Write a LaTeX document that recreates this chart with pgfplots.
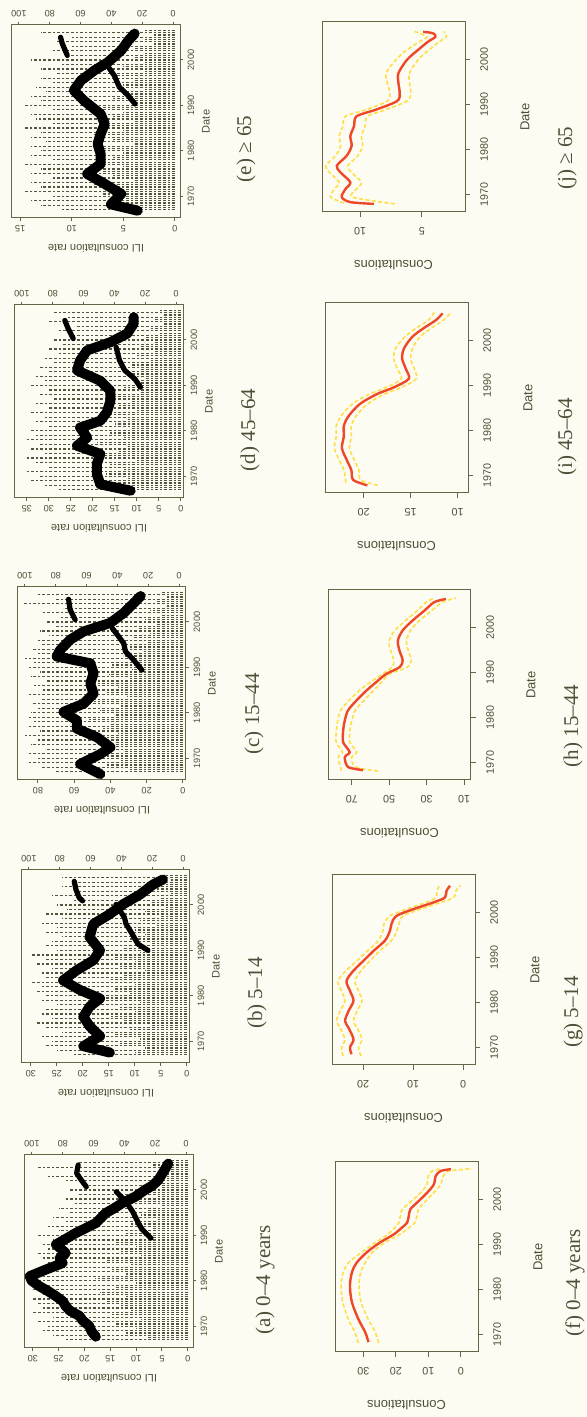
\documentclass[border=0pt]{standalone}
\usepackage{pgfplots}
\pgfplotsset{compat=1.18}
\usepackage{fontspec}
\setmainfont{Liberation Serif}
\newfontfamily\lsans{Liberation Sans}
\definecolor{bg}{RGB}{253,252,242}
\definecolor{axc}{RGB}{105,100,70}
\definecolor{txc}{RGB}{80,78,55}
\definecolor{dotc}{RGB}{85,82,62}
\definecolor{redc}{RGB}{238,72,40}
\definecolor{yelc}{RGB}{255,222,70}
\newcommand\tfT{\lsans\fontsize{4.6}{5}\selectfont}
\newcommand\lfT{\lsans\fontsize{5.5}{6}\selectfont}
\newcommand\tfB{\lsans\fontsize{5.4}{6}\selectfont}
\newcommand\lfB{\lsans\fontsize{6.5}{7}\selectfont}
\newcommand\capf{\fontsize{10.5}{12}\selectfont}
\pgfplotsset{
 common/.style={scale only axis, anchor=south west, x dir=reverse,
   axis line style={draw=axc, line width=0.5pt},
   tick style={draw=axc, line width=0.5pt}, tick align=outside,
   /pgf/number format/assume math mode=true, /pgf/number format/1000 sep={},
   ytick={1970,1980,1990,2000}, xtick pos=left, ytick pos=right,
   xticklabel pos=left, yticklabel pos=right, clip=true},
 toprow/.style={common, width=84pt, height=96.5pt, ymin=1965.2, ymax=2007.7,
   major tick length=1.6pt,
   tick label style={font=\tfT, text=txc},
   xticklabel style={rotate=180, anchor=south, inner ysep=2pt},
   yticklabel style={rotate=90, anchor=north, inner ysep=2pt}},
 topsec/.style={scale only axis, anchor=south west, width=84pt, height=96.5pt,
   x dir=reverse, xmin=-4.5, xmax=104.5, ymin=1965.2, ymax=2007.7,
   axis y line=none, axis x line*=top, xtick={0,20,40,60,80,100},
   axis line style={draw=axc, line width=0.5pt},
   tick style={draw=axc, line width=0.5pt}, tick align=outside, major tick length=1.6pt,
   /pgf/number format/assume math mode=true,
   xticklabel style={rotate=180, anchor=north, inner ysep=2pt, font=\tfT, text=txc}, clip=true},
 botrow/.style={common, width=71.5pt, height=95pt, ymin=1966.0, ymax=2008.3,
   major tick length=2.5pt,
   tick label style={font=\tfB, text=txc},
   xticklabel style={rotate=180, anchor=south, inner ysep=5pt},
   yticklabel style={rotate=90, anchor=north, inner ysep=5pt}},
 dots/.style={xcomb, no marks, draw=dotc, line width=0.6pt, dash pattern=on 1.3pt off 1.0pt},
 band/.style={no marks, draw=black, line width=5pt, line join=round, line cap=round},
 seg/.style={no marks, draw=black, line width=2.6pt, line join=round, line cap=round},
 est/.style={no marks, draw=redc, line width=1.2pt, smooth},
 ci/.style={no marks, draw=yelc, line width=0.8pt, dash pattern=on 2pt off 1.2pt, smooth},
}
\begin{document}
\begin{tikzpicture}
\path[use as bounding box, fill=bg] (0,0) rectangle (293pt,708.5pt);

% ===================== (a) 0-4 =====================
\begin{axis}[toprow, at={(12.5pt,34.5pt)}, xmin=-1, xmax=31.5, xtick={0,5,10,15,20,25,30}]
\addplot[dots] table[x=v,y=d,row sep=\\]{d v\\
1967.0 24\\ 1967.5 8\\ 1968.0 26\\ 1968.5 12\\ 1969.0 28\\ 1969.5 10\\ 1970.0 27\\ 1970.5 14\\
1971.0 29\\ 1971.5 9\\ 1972.0 26\\ 1972.5 15\\ 1973.0 30\\ 1973.5 11\\ 1974.0 28\\ 1974.5 13\\
1975.0 29\\ 1975.5 16\\ 1976.0 30\\ 1976.5 12\\ 1977.0 28\\ 1977.5 17\\ 1978.0 30\\ 1978.5 14\\
1979.0 29\\ 1979.5 10\\ 1980.0 30\\ 1980.5 18\\ 1981.0 29\\ 1981.5 12\\ 1982.0 28\\ 1982.5 15\\
1983.0 29\\ 1983.5 11\\ 1984.0 27\\ 1984.5 16\\ 1985.0 28\\ 1985.5 9\\ 1986.0 29\\ 1986.5 13\\
1987.0 27\\ 1987.5 10\\ 1988.0 28\\ 1988.5 14\\ 1989.0 26\\ 1989.5 8\\ 1990.0 29\\ 1990.5 12\\
1991.0 25\\ 1991.5 7\\ 1992.0 27\\ 1992.5 11\\ 1993.0 24\\ 1993.5 6\\ 1994.0 26\\ 1994.5 9\\
1995.0 23\\ 1995.5 8\\ 1996.0 25\\ 1996.5 5\\ 1997.0 22\\ 1997.5 10\\ 1998.0 24\\ 1998.5 6\\
1999.0 21\\ 1999.5 8\\ 2000.0 23\\ 2000.5 5\\ 2001.0 20\\ 2001.5 7\\ 2002.0 24\\ 2002.5 4\\
2003.0 27\\ 2003.5 6\\ 2004.0 22\\ 2004.5 5\\ 2005.0 29\\ 2005.5 7\\ 2006.0 21\\ 2006.5 4\\};
\addplot[band] table[x=v,y=d,row sep=\\]{d v\\
1967.7 17.8\\ 1968.8 18.6\\ 1970.1 19.1\\ 1971.2 20.3\\ 1972.3 21.0\\ 1973.4 22.8\\ 1974.4 23.6\\
1975.5 24.2\\ 1976.6 25.5\\ 1977.7 27.0\\ 1978.8 28.7\\ 1980.0 30.2\\ 1981.0 30.6\\ 1982.5 27.4\\
1983.9 24.2\\ 1985.0 24.8\\ 1986.1 23.6\\ 1988.0 25.5\\ 1989.3 23.5\\ 1990.5 21.7\\ 1992.7 17.8\\
1994.9 15.9\\ 1996.0 14.2\\ 1997.1 12.7\\ 1998.5 10.2\\ 2000.0 8.3\\ 2001.0 6.8\\ 2002.2 5.7\\
2004.4 4.5\\ 2005.8 3.8\\};
\end{axis}
\begin{axis}[topsec, at={(12.5pt,34.5pt)}]
\addplot[seg] table[x=v,y=d,row sep=\\]{d v\\ 1989.4 22.8\\ 1991.2 28.2\\ 1992.3 30.3\\ 1995.2 34.6\\ 1997.4 38.9\\ 1999.6 45.3\\};
\addplot[seg] table[x=v,y=d,row sep=\\]{d v\\ 2000.7 64.7\\ 2002.2 68.0\\ 2003.7 71.0\\ 2005.5 70.0\\};
\end{axis}

% ===================== (b) 5-14 =====================
\begin{axis}[toprow, at={(11pt,177pt)}, xmin=-0.6, xmax=31.7, xtick={0,5,10,15,20,25,30}]
\addplot[dots] table[x=v,y=d,row sep=\\]{d v\\
1967.0 22\\ 1967.5 10\\ 1968.0 25\\ 1968.5 8\\ 1969.0 27\\ 1969.5 13\\ 1970.0 26\\ 1970.5 9\\
1971.0 28\\ 1971.5 14\\ 1972.0 24\\ 1972.5 11\\ 1973.0 27\\ 1973.5 7\\ 1974.0 29\\ 1974.5 12\\
1975.0 26\\ 1975.5 15\\ 1976.0 28\\ 1976.5 10\\ 1977.0 27\\ 1977.5 13\\ 1978.0 25\\ 1978.5 9\\
1979.0 28\\ 1979.5 16\\ 1980.0 27\\ 1980.5 11\\ 1981.0 29\\ 1981.5 14\\ 1982.0 28\\ 1982.5 10\\
1983.0 30\\ 1983.5 15\\ 1984.0 27\\ 1984.5 12\\ 1985.0 28\\ 1985.5 8\\ 1986.0 26\\ 1986.5 13\\
1987.0 29\\ 1987.5 10\\ 1988.0 27\\ 1988.5 14\\ 1989.0 30\\ 1989.5 9\\ 1990.0 25\\ 1990.5 12\\
1991.0 27\\ 1991.5 7\\ 1992.0 26\\ 1992.5 11\\ 1993.0 24\\ 1993.5 8\\ 1994.0 27\\ 1994.5 10\\
1995.0 25\\ 1995.5 6\\ 1996.0 28\\ 1996.5 9\\ 1997.0 24\\ 1997.5 5\\ 1998.0 27\\ 1998.5 8\\
1999.0 23\\ 1999.5 4\\ 2000.0 25\\ 2000.5 7\\ 2001.0 22\\ 2001.5 5\\ 2002.0 26\\ 2002.5 3\\
2003.0 21\\ 2003.5 6\\ 2004.0 24\\ 2004.5 4\\ 2005.0 22\\ 2005.5 3\\ 2006.0 24\\ 2006.5 5\\};
\addplot[band] table[x=v,y=d,row sep=\\]{d v\\
1967.5 14.8\\ 1968.9 19.9\\ 1971.1 16.7\\ 1973.3 18.7\\ 1975.4 19.9\\ 1977.6 18.7\\ 1979.4 16.7\\
1981.3 20.6\\ 1983.4 23.8\\ 1985.6 21.2\\ 1987.8 18.0\\ 1990.0 16.7\\ 1992.9 18.7\\ 1995.8 18.0\\
1998.0 14.8\\ 2000.2 12.2\\ 2002.3 9.0\\ 2004.5 6.5\\ 2005.6 4.6\\};
\end{axis}
\begin{axis}[topsec, at={(11pt,177pt)}]
\addplot[seg] table[x=v,y=d,row sep=\\]{d v\\ 1990.0 22.8\\ 1991.4 29.3\\ 1994.0 33.7\\ 1995.8 37.0\\ 1997.2 38.0\\ 2000.1 43.5\\};
\addplot[seg] table[x=v,y=d,row sep=\\]{d v\\ 2000.9 65.2\\ 2001.6 67.4\\ 2003.4 69.5\\ 2005.2 70.6\\};
\end{axis}

% ===================== (c) 15-44 =====================
\begin{axis}[toprow, at={(9pt,318.5pt)}, xmin=-1.7, xmax=91, xtick={0,20,40,60,80}]
\addplot[dots] table[x=v,y=d,row sep=\\]{d v\\
1967.0 70\\ 1967.5 30\\ 1968.0 78\\ 1968.5 42\\ 1969.0 85\\ 1969.5 35\\ 1970.0 80\\ 1970.5 48\\
1971.0 86\\ 1971.5 33\\ 1972.0 76\\ 1972.5 45\\ 1973.0 84\\ 1973.5 38\\ 1974.0 81\\ 1974.5 50\\
1975.0 87\\ 1975.5 36\\ 1976.0 79\\ 1976.5 44\\ 1977.0 85\\ 1977.5 40\\ 1978.0 82\\ 1978.5 52\\
1979.0 86\\ 1979.5 37\\ 1980.0 84\\ 1980.5 46\\ 1981.0 80\\ 1981.5 34\\ 1982.0 83\\ 1982.5 49\\
1983.0 78\\ 1983.5 31\\ 1984.0 85\\ 1984.5 43\\ 1985.0 77\\ 1985.5 36\\ 1986.0 82\\ 1986.5 47\\
1987.0 76\\ 1987.5 30\\ 1988.0 84\\ 1988.5 41\\ 1989.0 79\\ 1989.5 28\\ 1990.0 86\\ 1990.5 39\\
1991.0 82\\ 1991.5 25\\ 1992.0 87\\ 1992.5 33\\ 1993.0 80\\ 1993.5 22\\ 1994.0 83\\ 1994.5 30\\
1995.0 78\\ 1995.5 20\\ 1996.0 81\\ 1996.5 27\\ 1997.0 74\\ 1997.5 18\\ 1998.0 79\\ 1998.5 24\\
1999.0 70\\ 1999.5 15\\ 2000.0 75\\ 2000.5 21\\ 2001.0 68\\ 2001.5 12\\ 2002.0 77\\ 2002.5 18\\
2003.0 66\\ 2003.5 10\\ 2004.0 88\\ 2004.5 15\\ 2005.0 70\\ 2005.5 9\\ 2006.0 80\\ 2006.5 12\\};
\addplot[band] table[x=v,y=d,row sep=\\]{d v\\
1966.5 45.6\\ 1968.7 56.7\\ 1970.9 45.6\\ 1972.4 40.0\\ 1974.6 47.4\\ 1976.5 58.5\\ 1978.3 58.5\\
1980.2 65.9\\ 1982.0 54.8\\ 1984.2 49.3\\ 1986.4 51.1\\ 1988.7 49.3\\ 1990.9 51.1\\ 1992.4 69.6\\
1993.8 67.8\\ 1996.1 62.2\\ 1997.9 54.8\\ 1999.8 40.0\\ 2002.0 32.6\\ 2004.2 27.0\\ 2005.7 23.3\\};
\end{axis}
\begin{axis}[topsec, at={(9pt,318.5pt)}]
\addplot[seg] table[x=v,y=d,row sep=\\]{d v\\ 1989.4 24.1\\ 1991.6 29.4\\ 1993.5 34.8\\ 1995.3 35.9\\ 1998.7 43.5\\};
\addplot[seg] table[x=v,y=d,row sep=\\]{d v\\ 2000.5 67.4\\ 2002.7 70.7\\ 2005.0 71.7\\};
\end{axis}

% ===================== (d) 45-64 =====================
\begin{axis}[toprow, at={(7.5pt,459.5pt)}, xmin=-0.5, xmax=37.7, xtick={0,5,10,15,20,25,30,35}]
\addplot[dots] table[x=v,y=d,row sep=\\]{d v\\
1967.0 28\\ 1967.5 11\\ 1968.0 31\\ 1968.5 15\\ 1969.0 34\\ 1969.5 12\\ 1970.0 32\\ 1970.5 17\\
1971.0 35\\ 1971.5 13\\ 1972.0 30\\ 1972.5 16\\ 1973.0 33\\ 1973.5 10\\ 1974.0 35\\ 1974.5 18\\
1975.0 31\\ 1975.5 14\\ 1976.0 34\\ 1976.5 12\\ 1977.0 32\\ 1977.5 19\\ 1978.0 35\\ 1978.5 13\\
1979.0 33\\ 1979.5 16\\ 1980.0 34\\ 1980.5 11\\ 1981.0 30\\ 1981.5 15\\ 1982.0 33\\ 1982.5 12\\
1983.0 31\\ 1983.5 17\\ 1984.0 34\\ 1984.5 10\\ 1985.0 30\\ 1985.5 14\\ 1986.0 33\\ 1986.5 11\\
1987.0 29\\ 1987.5 15\\ 1988.0 32\\ 1988.5 9\\ 1989.0 30\\ 1989.5 13\\ 1990.0 34\\ 1990.5 10\\
1991.0 31\\ 1991.5 8\\ 1992.0 33\\ 1992.5 12\\ 1993.0 30\\ 1993.5 9\\ 1994.0 32\\ 1994.5 11\\
1995.0 29\\ 1995.5 7\\ 1996.0 31\\ 1996.5 10\\ 1997.0 28\\ 1997.5 6\\ 1998.0 30\\ 1998.5 9\\
1999.0 27\\ 1999.5 6\\ 2000.0 29\\ 2000.5 8\\ 2001.0 25\\ 2001.5 5\\ 2002.0 28\\ 2002.5 7\\
2003.0 24\\ 2003.5 4\\ 2004.0 30\\ 2004.5 6\\ 2005.0 26\\ 2005.5 4\\ 2006.0 29\\ 2006.5 5\\};
\addplot[band] table[x=v,y=d,row sep=\\]{d v\\
1966.8 11.4\\ 1968.2 18.3\\ 1970.5 19.1\\ 1972.7 19.1\\ 1974.9 18.3\\ 1976.7 23.6\\ 1978.5 21.3\\
1980.7 22.9\\ 1982.2 18.3\\ 1984.1 16.8\\ 1986.6 16.0\\ 1988.8 16.0\\ 1991.0 18.3\\ 1993.3 23.6\\
1995.5 22.9\\ 1997.7 21.3\\ 1999.5 16.0\\ 2001.4 12.2\\ 2003.6 10.7\\ 2005.0 10.7\\};
\end{axis}
\begin{axis}[topsec, at={(7.5pt,459.5pt)}]
\addplot[seg] table[x=v,y=d,row sep=\\]{d v\\ 1989.6 23.1\\ 1991.4 26.7\\ 1993.3 33.3\\ 1995.5 36.7\\ 1998.4 38.9\\};
\addplot[seg] table[x=v,y=d,row sep=\\]{d v\\ 2000.3 66.7\\ 2002.5 70.0\\ 2004.3 72.2\\};
\end{axis}

% ===================== (e) >=65 =====================
\begin{axis}[toprow, at={(6pt,599.5pt)}, xmin=-0.5, xmax=15.8, xtick={0,5,10,15}]
\addplot[dots] table[x=v,y=d,row sep=\\]{d v\\
1967.0 11\\ 1967.5 4\\ 1968.0 13\\ 1968.5 6\\ 1969.0 14\\ 1969.5 5\\ 1970.0 12\\ 1970.5 7\\
1971.0 14.5\\ 1971.5 5\\ 1972.0 13\\ 1972.5 8\\ 1973.0 14\\ 1973.5 4\\ 1974.0 12\\ 1974.5 6\\
1975.0 14\\ 1975.5 7\\ 1976.0 13\\ 1976.5 5\\ 1977.0 14.5\\ 1977.5 8\\ 1978.0 12\\ 1978.5 6\\
1979.0 14\\ 1979.5 5\\ 1980.0 13\\ 1980.5 7\\ 1981.0 14\\ 1981.5 4\\ 1982.0 12.5\\ 1982.5 6\\
1983.0 14\\ 1983.5 8\\ 1984.0 13\\ 1984.5 5\\ 1985.0 14.5\\ 1985.5 7\\ 1986.0 12\\ 1986.5 4\\
1987.0 13.5\\ 1987.5 6\\ 1988.0 14\\ 1988.5 5\\ 1989.0 12\\ 1989.5 7\\ 1990.0 14.5\\ 1990.5 4\\
1991.0 13\\ 1991.5 6\\ 1992.0 14\\ 1992.5 5\\ 1993.0 12.5\\ 1993.5 3\\ 1994.0 13.5\\ 1994.5 5\\
1995.0 12\\ 1995.5 4\\ 1996.0 13\\ 1996.5 6\\ 1997.0 11.5\\ 1997.5 3\\ 1998.0 13\\ 1998.5 5\\
1999.0 11\\ 1999.5 3\\ 2000.0 14\\ 2000.5 4\\ 2001.0 10.5\\ 2001.5 3\\ 2002.0 12\\ 2002.5 4\\
2003.0 10\\ 2003.5 2\\ 2004.0 11.5\\ 2004.5 3\\ 2005.0 10\\ 2005.5 2\\ 2006.0 13\\ 2006.5 3\\};
\addplot[band] table[x=v,y=d,row sep=\\]{d v\\
1966.8 3.6\\ 1968.2 6.2\\ 1970.5 5.2\\ 1972.7 6.8\\ 1974.9 8.5\\ 1977.1 7.2\\ 1979.3 7.2\\
1981.5 7.5\\ 1983.7 7.2\\ 1985.9 6.8\\ 1988.1 7.2\\ 1991.0 8.8\\ 1993.3 9.8\\ 1995.5 9.1\\
1997.7 7.8\\ 1999.5 6.5\\ 2002.1 5.2\\ 2004.3 4.5\\ 2005.8 3.9\\};
\end{axis}
\begin{axis}[topsec, at={(6pt,599.5pt)}]
\addplot[seg] table[x=v,y=d,row sep=\\]{d v\\ 1990.3 24.7\\ 1992.2 29.2\\ 1994.0 34.8\\ 1996.6 38.2\\ 1998.8 42.7\\};
\addplot[seg] table[x=v,y=d,row sep=\\]{d v\\ 2001.0 68.6\\ 2003.6 71.9\\ 2005.0 73.0\\};
\end{axis}

% ===================== (f) 0-4 =====================
\begin{axis}[botrow, at={(167.5pt,32.5pt)}, xmin=-5.3, xmax=38.7, xtick={0,10,20,30}]
\addplot[ci] table[x=v,y=d,row sep=\\]{d v\\ 1968.0 31.5\\ 1970.4 32.6\\ 1973.3 34.6\\ 1977.1 36.3\\ 1980.7 36.8\\ 1983.7 36.2\\ 1985.9 34.5\\ 1988.2 30.5\\ 1990.4 26.2\\ 1992.2 22.4\\ 1993.7 20.3\\ 1994.8 19.0\\ 1996.3 18.6\\ 1997.8 18.0\\ 1999.3 15.6\\ 2001.5 12.3\\ 2003.3 10.4\\ 2005.2 10.0\\ 2006.3 8.8\\ 2006.8 6.0\\};
\addplot[ci] table[x=v,y=d,row sep=\\]{d v\\ 1968.0 25.3\\ 1970.4 26.3\\ 1973.3 28.5\\ 1977.1 30.7\\ 1980.7 31.3\\ 1983.7 30.8\\ 1985.9 29.4\\ 1988.2 27.2\\ 1990.4 23.3\\ 1992.2 18.7\\ 1993.7 15.9\\ 1994.8 14.1\\ 1996.3 13.5\\ 1997.8 13.0\\ 1999.3 11.2\\ 2001.5 8.3\\ 2003.3 6.2\\ 2005.2 5.4\\ 2006.3 3.5\\ 2006.8 -3.5\\};
\addplot[est] table[x=v,y=d,row sep=\\]{d v\\ 1968.2 28.4\\ 1970.4 29.4\\ 1973.3 31.5\\ 1977.1 33.5\\ 1980.7 34.1\\ 1983.7 33.5\\ 1985.9 32.0\\ 1988.2 28.9\\ 1990.4 24.8\\ 1992.2 20.6\\ 1993.7 18.1\\ 1994.8 16.5\\ 1996.3 16.0\\ 1997.8 15.5\\ 1999.3 13.4\\ 2001.5 10.3\\ 2003.3 8.3\\ 2005.2 7.7\\ 2006.3 6.2\\ 2006.7 3.0\\};
\end{axis}

% ===================== (g) 5-14 =====================
\begin{axis}[botrow, at={(166pt,176pt)}, xmin=-2.4, xmax=26.2, xtick={0,10,20}]
\addplot[ci] table[x=v,y=d,row sep=\\]{d v\\ 1968.0 24.0\\ 1969.9 24.3\\ 1971.7 23.6\\ 1974.3 24.6\\ 1975.8 25.3\\ 1978.0 24.6\\ 1980.3 23.6\\ 1982.5 24.3\\ 1984.7 25.0\\ 1987.0 23.4\\ 1989.2 21.2\\ 1991.4 19.1\\ 1993.7 16.9\\ 1995.9 16.0\\ 1997.4 15.8\\ 1999.2 14.6\\ 2000.7 11.3\\ 2002.2 7.4\\ 2003.3 5.4\\ 2004.8 5.2\\ 2006.0 4.7\\};
\addplot[ci] table[x=v,y=d,row sep=\\]{d v\\ 1968.0 20.4\\ 1969.9 20.9\\ 1971.7 20.2\\ 1974.3 21.2\\ 1975.8 21.9\\ 1978.0 21.2\\ 1980.3 20.2\\ 1982.5 20.9\\ 1984.7 21.6\\ 1987.0 20.4\\ 1989.2 18.6\\ 1991.4 16.7\\ 1993.7 14.3\\ 1995.9 13.2\\ 1997.4 12.8\\ 1999.2 12.0\\ 2000.7 8.5\\ 2002.2 4.4\\ 2003.3 1.8\\ 2004.8 1.4\\ 2006.0 0.5\\};
\addplot[est] table[x=v,y=d,row sep=\\]{d v\\ 1968.4 22.3\\ 1969.9 22.6\\ 1971.7 21.9\\ 1974.3 22.9\\ 1975.8 23.6\\ 1978.0 22.9\\ 1980.3 21.9\\ 1982.5 22.6\\ 1984.7 23.3\\ 1987.0 21.9\\ 1989.2 19.9\\ 1991.4 17.9\\ 1993.7 15.6\\ 1995.9 14.6\\ 1997.4 14.3\\ 1999.2 13.3\\ 2000.7 9.9\\ 2002.2 5.9\\ 2003.3 3.6\\ 2004.8 3.3\\ 2005.9 2.6\\};
\end{axis}

% ===================== (h) 15-44 =====================
\begin{axis}[botrow, at={(164pt,318.5pt)}, xmin=6.3, xmax=82.7, xtick={10,30,50,70}]
\addplot[ci] table[x=v,y=d,row sep=\\]{d v\\ 1968.0 75.5\\ 1968.9 76.0\\ 1971.1 77.2\\ 1972.2 75.0\\ 1974.4 78.3\\ 1977.0 78.2\\ 1979.3 77.5\\ 1981.5 75.9\\ 1983.7 71.5\\ 1985.9 66.0\\ 1987.8 60.0\\ 1989.6 53.5\\ 1991.1 48.5\\ 1992.6 47.5\\ 1994.8 49.3\\ 1997.0 50.0\\ 1999.3 47.0\\ 2001.5 41.2\\ 2003.7 35.0\\ 2005.6 30.2\\ 2006.5 26.0\\};
\addplot[ci] table[x=v,y=d,row sep=\\]{d v\\ 1968.0 56.0\\ 1968.9 68.0\\ 1971.1 70.0\\ 1972.2 67.4\\ 1974.4 71.0\\ 1977.0 71.0\\ 1979.3 69.9\\ 1981.5 68.2\\ 1983.7 63.5\\ 1985.9 58.4\\ 1987.8 54.0\\ 1989.6 49.8\\ 1991.1 40.5\\ 1992.6 38.2\\ 1994.8 39.8\\ 1997.0 40.8\\ 1999.3 38.6\\ 2001.5 33.8\\ 2003.7 27.4\\ 2005.6 21.6\\ 2006.5 14.5\\};
\addplot[est] table[x=v,y=d,row sep=\\]{d v\\ 1968.2 64.0\\ 1968.9 72.0\\ 1971.1 73.7\\ 1972.2 71.1\\ 1974.4 74.6\\ 1977.0 74.6\\ 1979.3 73.7\\ 1981.5 72.0\\ 1983.7 67.5\\ 1985.9 62.2\\ 1987.8 56.9\\ 1989.6 51.6\\ 1991.1 44.5\\ 1992.6 42.8\\ 1994.8 44.5\\ 1997.0 45.4\\ 1999.3 42.8\\ 2001.5 37.5\\ 2003.7 31.2\\ 2005.6 25.9\\ 2006.3 19.7\\};
\end{axis}

% ===================== (i) 45-64 =====================
\begin{axis}[botrow, at={(162.5pt,462pt)}, xmin=8.9, xmax=24.1, xtick={10,15,20}]
\addplot[ci] table[x=v,y=d,row sep=\\]{d v\\ 1968.3 21.9\\ 1968.9 21.9\\ 1971.1 22.1\\ 1973.4 22.6\\ 1976.0 23.1\\ 1978.6 22.9\\ 1980.9 22.9\\ 1983.1 22.4\\ 1985.8 21.2\\ 1988.0 19.4\\ 1989.5 17.6\\ 1991.4 16.0\\ 1993.6 16.4\\ 1995.9 16.8\\ 1998.2 16.6\\ 2000.8 15.6\\ 2002.7 14.4\\ 2004.5 13.1\\ 2006.2 12.5\\};
\addplot[ci] table[x=v,y=d,row sep=\\]{d v\\ 1967.7 18.5\\ 1968.9 20.3\\ 1971.1 20.5\\ 1973.4 21.0\\ 1976.0 21.5\\ 1978.6 21.3\\ 1980.9 21.3\\ 1983.1 20.8\\ 1985.8 19.6\\ 1988.0 17.8\\ 1989.5 16.0\\ 1991.4 14.4\\ 1993.6 14.6\\ 1995.9 15.0\\ 1998.2 14.8\\ 2000.8 14.0\\ 2002.7 12.8\\ 2004.5 11.5\\ 2006.2 10.7\\};
\addplot[est] table[x=v,y=d,row sep=\\]{d v\\ 1967.7 19.6\\ 1968.9 21.1\\ 1971.1 21.3\\ 1973.4 21.8\\ 1976.0 22.3\\ 1978.6 22.1\\ 1980.9 22.1\\ 1983.1 21.6\\ 1985.8 20.4\\ 1988.0 18.6\\ 1989.5 16.8\\ 1991.4 15.2\\ 1993.6 15.5\\ 1995.9 15.9\\ 1998.2 15.7\\ 2000.8 14.8\\ 2002.7 13.6\\ 2004.5 12.3\\ 2006.0 11.6\\};
\end{axis}

% ===================== (j) >=65 =====================
\begin{axis}[botrow, at={(161pt,602.5pt)}, xmin=1.5, xmax=13.1, xtick={5,10}]
\addplot[ci] table[x=v,y=d,row sep=\\]{d v\\ 1968.0 11.3\\ 1969.3 12.4\\ 1971.1 12.1\\ 1972.6 11.7\\ 1974.8 12.5\\ 1976.3 12.8\\ 1978.5 12.0\\ 1980.7 11.6\\ 1982.9 11.7\\ 1985.1 11.4\\ 1987.3 11.2\\ 1988.8 9.5\\ 1990.7 7.8\\ 1992.5 7.6\\ 1994.7 7.8\\ 1996.9 7.9\\ 1999.9 7.1\\ 2002.1 6.2\\ 2003.9 5.2\\ 2005.0 4.6\\ 2006.2 5.6\\};
\addplot[ci] table[x=v,y=d,row sep=\\]{d v\\ 1967.8 7.2\\ 1969.3 10.6\\ 1971.1 10.3\\ 1972.6 9.9\\ 1974.8 10.7\\ 1976.3 11.0\\ 1978.5 10.2\\ 1980.7 9.8\\ 1982.9 9.9\\ 1985.1 9.6\\ 1987.3 9.4\\ 1988.8 7.9\\ 1990.7 6.2\\ 1992.5 5.9\\ 1994.7 6.0\\ 1996.9 6.0\\ 1999.9 5.3\\ 2002.1 4.4\\ 2003.9 3.6\\ 2005.0 3.0\\ 2006.2 3.2\\};
\addplot[est] table[x=v,y=d,row sep=\\]{d v\\ 1967.8 8.9\\ 1968.2 10.8\\ 1969.3 11.5\\ 1971.1 11.2\\ 1972.6 10.8\\ 1974.8 11.6\\ 1976.3 11.9\\ 1978.5 11.1\\ 1980.7 10.7\\ 1982.9 10.8\\ 1985.1 10.5\\ 1987.3 10.3\\ 1988.8 8.7\\ 1990.7 7.0\\ 1992.5 6.8\\ 1994.7 6.9\\ 1996.9 6.9\\ 1999.9 6.2\\ 2002.1 5.3\\ 2003.9 4.5\\ 2005.0 3.9\\ 2005.8 4.1\\ 2006.1 4.9\\};
\end{axis}

% ===================== labels =====================
\begin{scope}[every node/.style={text=txc, inner sep=0pt}]
\foreach \X/\Y in {54.5/19.5, 53/162, 51/303.5, 49.5/444.5, 48/584.5}
  \node[rotate=180, font=\lfT] at (\X pt,\Y pt) {ILI consultation rate};
\foreach \X/\Y in {109.5/82.75, 108/225.25, 106/366.75, 104.5/507.75, 103/647.75}
  \node[rotate=90, font=\lfT] at (\X pt,\Y pt) {Date};
\foreach \X/\Y in {203.25/6, 201.75/149.5, 199.75/292, 198.25/435.5, 196.75/576}
  \node[rotate=180, font=\lfB] at (\X pt,\Y pt) {Consultations};
\foreach \X/\Y in {269/80, 267.5/223.5, 265.5/366, 264/509.5, 262.5/650}
  \node[rotate=90, font=\lfB] at (\X pt,\Y pt) {Date};
\node[rotate=90, font=\capf] at (132.5pt,68.5pt) {(a) 0--4 years};
\node[rotate=90, font=\capf] at (128.5pt,212pt) {(b) 5--14};
\node[rotate=90, font=\capf] at (127pt,351.5pt) {(c) 15--44};
\node[rotate=90, font=\capf] at (125pt,493.5pt) {(d) 45--64};
\node[rotate=90, font=\capf] at (123pt,634pt) {(e) ≥ 65};
\node[rotate=90, font=\capf] at (287.5pt,67pt) {(f) 0--4 years};
\node[rotate=90, font=\capf] at (286.5pt,202.5pt) {(g) 5--14};
\node[rotate=90, font=\capf] at (286.5pt,345.5pt) {(h) 15--44};
\node[rotate=90, font=\capf] at (283.5pt,490pt) {(i) 45--64};
\node[rotate=90, font=\capf] at (283.5pt,629.5pt) {(j) ≥ 65};
\end{scope}
\end{tikzpicture}
\end{document}
